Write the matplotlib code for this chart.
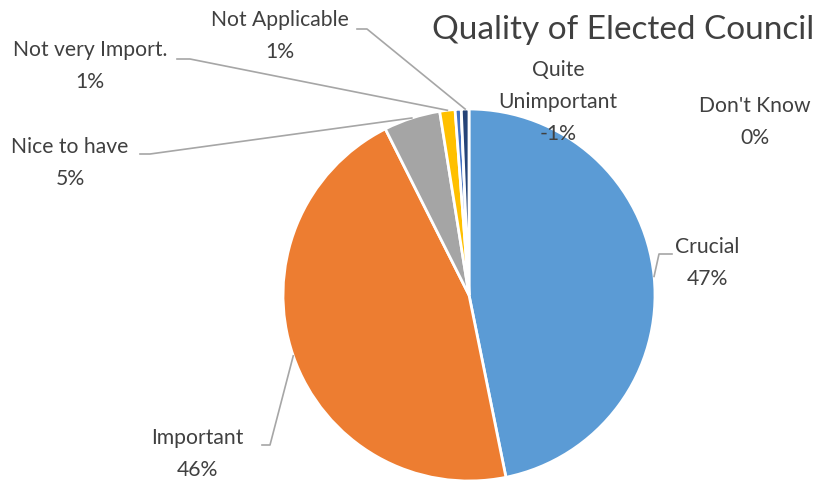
import numpy as np
import matplotlib
matplotlib.use("Agg")
import matplotlib.pyplot as plt
from matplotlib.lines import Line2D

categories = ["Crucial", "Important", "Nice to have", "Not very Import.",
              "Quite Unimportant", "Don't Know", "Not Applicable"]
counts = [353, 345, 37, 10, -4, 0, 5]
colors = ["#5B9BD5", "#ED7D31", "#A5A5A5", "#FFC000", "#4472C4", "#70AD47", "#264478"]

W, H = 823, 482
TXT = "#404040"
LEAD = "#A6A6A6"
FONT = "Lato"

# label text centre (px) and leader elbow (px) per category; None = no leader
label_pos = {
    "Crucial": ((707, 263), [(672, 254), (659, 254)]),
    "Important": ((197, 454), [(262, 445), (270, 445)]),
    "Nice to have": ((70, 163), [(140, 154), (150, 154)]),
    "Not very Import.": ((90, 66), [(177, 59), (190, 59)]),
    "Quite Unimportant": ((558, 102), None),
    "Don't Know": ((755, 122), None),
    "Not Applicable": ((280, 36), [(357, 29), (367, 29)]),
}
wrap = {"Quite Unimportant": "Quite\nUnimportant"}

fig = plt.figure(figsize=(W / 100, H / 100), dpi=100)
cx, cy, r = 469, 295, 186
ax = fig.add_axes([(cx - r) / W, (H - cy - r) / H, 2 * r / W, 2 * r / H])

total = sum(abs(c) for c in counts)
wedges, _ = ax.pie([abs(c) for c in counts], colors=colors, startangle=90,
                   counterclock=False, radius=1,
                   wedgeprops=dict(edgecolor="white", linewidth=2))
ax.set_xlim(-1, 1)
ax.set_ylim(-1, 1)
ax.axis("off")


def px(x, y):
    return x / W, 1 - y / H


for w, name, c in zip(wedges, categories, counts):
    pct = 100 * c / total
    (tx, ty), elbow = label_pos[name]
    text = f"{wrap.get(name, name)}\n{pct:.0f}%"
    fig.text(*px(tx, ty), text, ha="center", va="center", fontsize=15.2,
             color=TXT, family=FONT, linespacing=1.75)
    if elbow is None:
        continue
    ang = np.deg2rad((w.theta1 + w.theta2) / 2)
    ex = cx + r * np.cos(ang)
    ey = cy - r * np.sin(ang)
    pts = [px(*p) for p in elbow] + [px(ex, ey)]
    xs, ys = zip(*pts)
    fig.add_artist(Line2D(xs, ys, color=LEAD, lw=1.2, transform=fig.transFigure))

fig.text(*px(623, 30), "Quality of Elected Council", ha="center", va="center",
         fontsize=24, color=TXT, family=FONT)

fig.savefig("out.png", dpi=100)
